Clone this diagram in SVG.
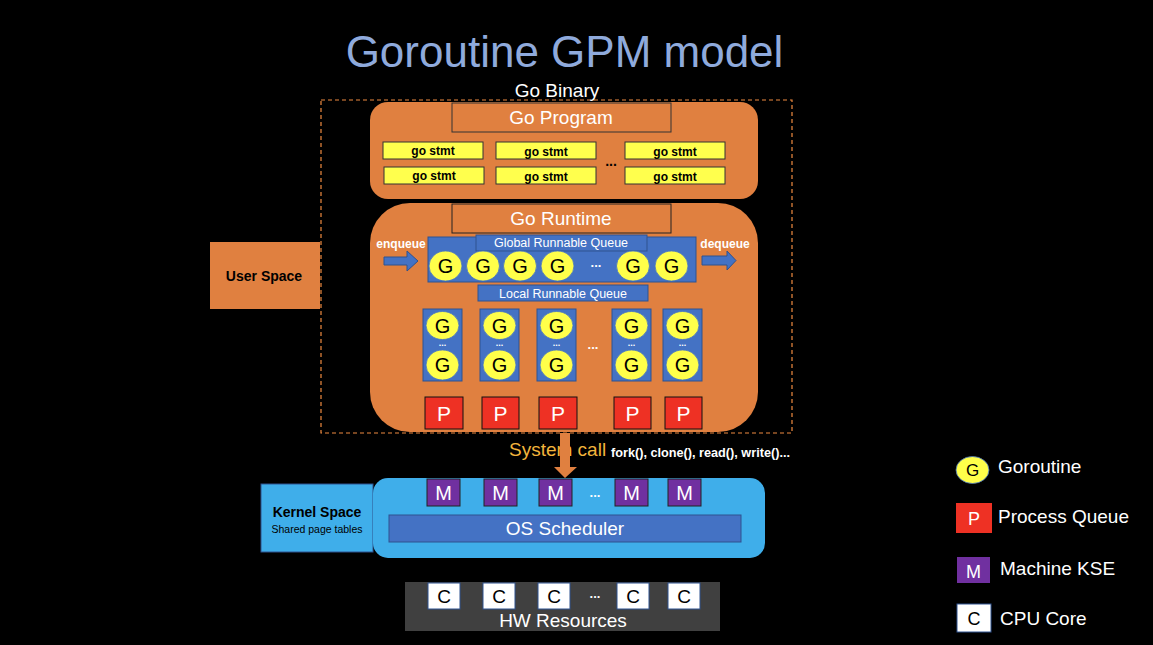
<svg xmlns="http://www.w3.org/2000/svg" width="1153" height="645" viewBox="0 0 1153 645">
<defs>
<style>
text{font-family:"Liberation Sans",Arial,sans-serif}
.orange{fill:#E08040}
.gstmt{fill:#FFFF4D;stroke:#333;stroke-width:1}
.gs{font-size:12px;font-weight:bold;fill:#000;text-anchor:middle}
.blue{fill:#4472C4;stroke:#2F528F;stroke-width:1}
.circ{fill:#FFFF4A;stroke:#4472C4;stroke-width:0.8}
.gl{font-size:20px;fill:#000;text-anchor:middle}
.pbox{fill:#EE3124;stroke:#111;stroke-width:1}
.pl{font-size:21px;fill:#fff;text-anchor:middle}
.mbox{fill:#7030A0;stroke:#222;stroke-width:1}
.ml{font-size:20px;fill:#fff;text-anchor:middle}
.cbox{fill:#fff;stroke:#2F528F;stroke-width:1}
.cl{font-size:19px;fill:#000;text-anchor:middle}
.wt{fill:#fff;text-anchor:middle}
.dots{fill:#fff;font-weight:bold;text-anchor:middle}
.leg{font-size:19px;fill:#fff}
</style>
</defs>
<rect x="0" y="0" width="1153" height="645" fill="#000"/>

<g id="title">
<text x="564.5" y="67" font-size="44" fill="#8FAADC" text-anchor="middle">Goroutine GPM model</text>
</g>

<g id="go-binary">
<rect x="321" y="100" width="471" height="333" fill="none" stroke="#EE8A40" stroke-width="1.2" stroke-dasharray="4,3"/>
<text x="557" y="97" font-size="19" class="wt">Go Binary</text>
</g>

<g id="go-program">
<rect x="370" y="102" width="388" height="97" rx="18" class="orange"/>
<rect x="452" y="103" width="219" height="29" fill="none" stroke="#333" stroke-width="1"/>
<text x="561" y="124" font-size="19" class="wt">Go Program</text>
<rect x="383" y="142" width="100" height="17" class="gstmt"/>
<rect x="496" y="142" width="100" height="17" class="gstmt"/>
<rect x="625" y="142" width="100" height="17" class="gstmt"/>
<rect x="384" y="167" width="100" height="17" class="gstmt"/>
<rect x="496" y="167" width="100" height="17" class="gstmt"/>
<rect x="625" y="167" width="100" height="17" class="gstmt"/>
<text x="433" y="155" class="gs">go stmt</text>
<text x="546" y="156" class="gs">go stmt</text>
<text x="675" y="156" class="gs">go stmt</text>
<text x="434" y="180" class="gs">go stmt</text>
<text x="546" y="181" class="gs">go stmt</text>
<text x="675" y="181" class="gs">go stmt</text>
<text x="611" y="166" font-size="14" font-weight="bold" fill="#000" text-anchor="middle">...</text>
</g>

<g id="go-runtime">
<rect x="370" y="203" width="388" height="229" rx="40" class="orange"/>
<rect x="452" y="204" width="219" height="29" fill="none" stroke="#222" stroke-width="1"/>
<text x="561" y="225" font-size="19" class="wt">Go Runtime</text>
</g>

<g id="global-queue">
<rect x="428" y="237" width="268" height="45" class="blue"/>
<rect x="476" y="235" width="171" height="16" class="blue"/>
<text x="561" y="247" font-size="12.5" class="wt">Global Runnable Queue</text>
<ellipse cx="445.5" cy="266" rx="16.5" ry="15" class="circ"/>
<ellipse cx="483" cy="266" rx="16.5" ry="15" class="circ"/>
<ellipse cx="520" cy="266" rx="16.5" ry="15" class="circ"/>
<ellipse cx="557.5" cy="266" rx="16.5" ry="15" class="circ"/>
<ellipse cx="633" cy="266" rx="16.5" ry="15" class="circ"/>
<ellipse cx="671.5" cy="266" rx="16.5" ry="15" class="circ"/>
<text x="445.5" y="273" class="gl">G</text>
<text x="483" y="273" class="gl">G</text>
<text x="520" y="273" class="gl">G</text>
<text x="557.5" y="273" class="gl">G</text>
<text x="633" y="273" class="gl">G</text>
<text x="671.5" y="273" class="gl">G</text>
<text x="596" y="267" font-size="13" class="dots">...</text>
</g>

<g id="enqueue-label"><text x="401" y="248" font-size="12" font-weight="bold" class="wt">enqueue</text></g>
<g id="dequeue-label"><text x="725" y="248" font-size="12" font-weight="bold" class="wt">dequeue</text></g>

<g id="local-queue">
<rect x="478" y="285" width="170" height="16" class="blue"/>
<text x="563" y="298" font-size="12.5" class="wt">Local Runnable Queue</text>
<rect x="423" y="309" width="39" height="72" class="blue"/>
<rect x="480" y="309" width="39" height="72" class="blue"/>
<rect x="537" y="309" width="39" height="72" class="blue"/>
<rect x="612" y="309" width="39" height="72" class="blue"/>
<rect x="663" y="309" width="39" height="72" class="blue"/>
<ellipse cx="442.5" cy="325.5" rx="16.5" ry="14" class="circ"/>
<ellipse cx="499.5" cy="325.5" rx="16.5" ry="14" class="circ"/>
<ellipse cx="556.5" cy="325.5" rx="16.5" ry="14" class="circ"/>
<ellipse cx="631.5" cy="325.5" rx="16.5" ry="14" class="circ"/>
<ellipse cx="682.5" cy="325.5" rx="16.5" ry="14" class="circ"/>
<ellipse cx="442.5" cy="365" rx="16.5" ry="15" class="circ"/>
<ellipse cx="499.5" cy="365" rx="16.5" ry="15" class="circ"/>
<ellipse cx="556.5" cy="365" rx="16.5" ry="15" class="circ"/>
<ellipse cx="631.5" cy="365" rx="16.5" ry="15" class="circ"/>
<ellipse cx="682.5" cy="365" rx="16.5" ry="15" class="circ"/>
<text x="442.5" y="332.5" class="gl">G</text>
<text x="499.5" y="332.5" class="gl">G</text>
<text x="556.5" y="332.5" class="gl">G</text>
<text x="631.5" y="332.5" class="gl">G</text>
<text x="682.5" y="332.5" class="gl">G</text>
<text x="442.5" y="372" class="gl">G</text>
<text x="499.5" y="372" class="gl">G</text>
<text x="556.5" y="372" class="gl">G</text>
<text x="631.5" y="372" class="gl">G</text>
<text x="682.5" y="372" class="gl">G</text>
<text x="442.5" y="346" font-size="9" class="dots">...</text>
<text x="499.5" y="346" font-size="9" class="dots">...</text>
<text x="556.5" y="346" font-size="9" class="dots">...</text>
<text x="631.5" y="346" font-size="9" class="dots">...</text>
<text x="682.5" y="346" font-size="9" class="dots">...</text>
<text x="593" y="349" font-size="13" class="dots">...</text>
</g>

<g id="processors">
<rect x="425" y="397" width="38" height="32" class="pbox"/>
<rect x="482" y="397" width="37" height="32" class="pbox"/>
<rect x="539" y="397" width="38" height="32" class="pbox"/>
<rect x="614" y="397" width="37" height="32" class="pbox"/>
<rect x="665" y="397" width="37" height="32" class="pbox"/>
<text x="444" y="420.5" class="pl">P</text>
<text x="500.5" y="420.5" class="pl">P</text>
<text x="558" y="420.5" class="pl">P</text>
<text x="632.5" y="420.5" class="pl">P</text>
<text x="683.5" y="420.5" class="pl">P</text>
</g>

<g id="user-space">
<rect x="210" y="242" width="110" height="67" class="orange"/>
<text x="264" y="281" font-size="14" font-weight="bold" fill="#000" text-anchor="middle">User Space</text>
</g>

<g id="system-call-label">
<text x="509" y="456" font-size="19" fill="#F2B43C">System call</text>
<text x="611" y="457" font-size="12.5" font-weight="bold" fill="#fff" textLength="179" lengthAdjust="spacingAndGlyphs">fork(), clone(), read(), write()...</text>
</g>

<g id="kernel-space-label">
<rect x="261" y="484" width="112" height="68" fill="#3FAEEA" stroke="#2F528F" stroke-width="1"/>
<text x="317" y="517" font-size="14" font-weight="bold" fill="#000" text-anchor="middle">Kernel Space</text>
<text x="317" y="533" font-size="10.5" fill="#000" text-anchor="middle">Shared page tables</text>
</g>

<g id="kernel">
<rect x="373" y="478" width="392" height="80" rx="15" fill="#3FAEEA"/>
<rect x="427" y="479" width="33" height="27" class="mbox"/>
<rect x="484" y="479" width="33" height="27" class="mbox"/>
<rect x="539" y="479" width="33" height="27" class="mbox"/>
<rect x="615" y="479" width="33" height="27" class="mbox"/>
<rect x="668" y="479" width="33" height="27" class="mbox"/>
<text x="443.5" y="500" class="ml">M</text>
<text x="500.5" y="500" class="ml">M</text>
<text x="555.5" y="500" class="ml">M</text>
<text x="631.5" y="500" class="ml">M</text>
<text x="684.5" y="500" class="ml">M</text>
<text x="595" y="497" font-size="13" class="dots">...</text>
<rect x="389" y="515" width="352" height="27" class="blue"/>
<text x="565" y="535" font-size="19" class="wt">OS Scheduler</text>
</g>

<g id="hw-resources">
<rect x="405" y="582" width="315" height="49" fill="#404040"/>
<rect x="428" y="583" width="32" height="26" class="cbox"/>
<rect x="483" y="583" width="32" height="26" class="cbox"/>
<rect x="538" y="583" width="32" height="26" class="cbox"/>
<rect x="617" y="583" width="32" height="26" class="cbox"/>
<rect x="668" y="583" width="32" height="26" class="cbox"/>
<text x="444" y="603" class="cl">C</text>
<text x="499" y="603" class="cl">C</text>
<text x="554" y="603" class="cl">C</text>
<text x="633" y="603" class="cl">C</text>
<text x="684" y="603" class="cl">C</text>
<text x="595" y="598" font-size="13" class="dots">...</text>
<text x="563" y="627" font-size="19" class="wt">HW Resources</text>
</g>

<g id="connectors">
<polygon points="384,257 407,257 407,251 418,261 407,271 407,265 384,265" class="blue"/>
<polygon points="702,256 727,256 727,251 736,260.5 727,270 727,265 702,265" class="blue"/>
<polygon points="560,433 570,433 570,467 577,467 565,478 554,467 560,467" fill="#E08040"/>
</g>

<g id="legend">
<ellipse cx="972.5" cy="470" rx="16.5" ry="13.5" class="circ"/>
<text x="972.5" y="476" font-size="17" fill="#000" text-anchor="middle">G</text>
<text x="998" y="473" class="leg">Goroutine</text>
<rect x="956" y="503" width="36" height="30" fill="#EE3124"/>
<text x="974" y="525" font-size="18" class="wt">P</text>
<text x="998" y="523" class="leg">Process Queue</text>
<rect x="957" y="557" width="33" height="26" fill="#7030A0"/>
<text x="973.5" y="577.5" font-size="18" class="wt">M</text>
<text x="1000" y="575" class="leg">Machine KSE</text>
<rect x="957" y="604" width="34" height="28" class="cbox"/>
<text x="974" y="625" font-size="18" fill="#000" text-anchor="middle">C</text>
<text x="1000" y="625" class="leg">CPU Core</text>
</g>
</svg>
